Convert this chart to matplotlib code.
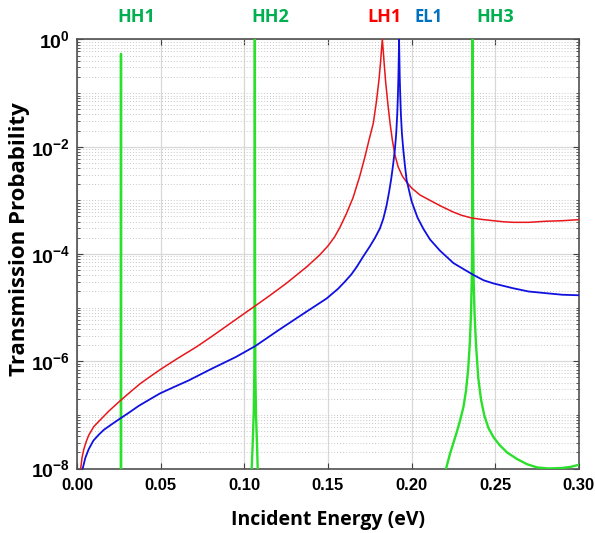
import numpy as np
import matplotlib
matplotlib.use("Agg")
import matplotlib.pyplot as plt
from matplotlib.ticker import FixedLocator, FuncFormatter, NullFormatter

# values (energy in eV, transmission as log10)
red_e = [0.0022, 0.0030, 0.0040, 0.0055, 0.0070, 0.0100, 0.0137, 0.0190, 0.0257, 0.0320,
         0.0377, 0.0440, 0.0500, 0.0600, 0.0715, 0.0800, 0.0900, 0.1000, 0.1064, 0.1150,
         0.1250, 0.1373, 0.1450, 0.1500, 0.1540, 0.1572, 0.1610, 0.1650, 0.1690, 0.1720,
         0.1745, 0.1771, 0.1790, 0.1805, 0.1815, 0.1820, 0.1825, 0.1830, 0.1836, 0.1845,
         0.1858, 0.1871, 0.1885, 0.1900, 0.1920, 0.1945, 0.1970, 0.2000, 0.2050, 0.2110,
         0.2170, 0.2250, 0.2300, 0.2360, 0.2430, 0.2490, 0.2550, 0.2608, 0.2700, 0.2800,
         0.2900, 0.3000]
red_log = [-8.00, -7.80, -7.65, -7.50, -7.38, -7.22, -7.10, -6.93, -6.74, -6.57,
           -6.42, -6.28, -6.15, -5.95, -5.73, -5.55, -5.33, -5.11, -4.97, -4.78,
           -4.55, -4.24, -4.02, -3.85, -3.68, -3.50, -3.25, -2.95, -2.55, -2.20,
           -1.88, -1.56, -1.15, -0.75, -0.40, -0.18, 0.00, -0.20, -0.45, -0.80,
           -1.20, -1.56, -1.88, -2.15, -2.38, -2.55, -2.66, -2.77, -2.90, -3.00,
           -3.10, -3.22, -3.28, -3.33, -3.36, -3.38, -3.40, -3.41, -3.41, -3.39,
           -3.38, -3.36]

blue_e = [0.0034, 0.0042, 0.0050, 0.0070, 0.0098, 0.0130, 0.0160, 0.0210, 0.0257, 0.0310,
          0.0370, 0.0430, 0.0496, 0.0580, 0.0666, 0.0805, 0.0950, 0.1064, 0.1130, 0.1200,
          0.1350, 0.1492, 0.1560, 0.1600, 0.1640, 0.1672, 0.1710, 0.1750, 0.1781, 0.1811,
          0.1831, 0.1850, 0.1865, 0.1878, 0.1890, 0.1900, 0.1908, 0.1914, 0.1918, 0.1921,
          0.1923, 0.1925, 0.1927, 0.1929, 0.1932, 0.1936, 0.1942, 0.1950, 0.1960, 0.1970,
          0.2000, 0.2035, 0.2070, 0.2110, 0.2170, 0.2250, 0.2369, 0.2430, 0.2490, 0.2608,
          0.2700, 0.2800, 0.2900, 0.3000]
blue_log = [-8.00, -7.90, -7.80, -7.64, -7.48, -7.37, -7.28, -7.17, -7.07, -6.96,
            -6.83, -6.72, -6.60, -6.48, -6.36, -6.14, -5.92, -5.72, -5.58, -5.43,
            -5.12, -4.83, -4.65, -4.52, -4.38, -4.24, -4.05, -3.86, -3.70, -3.52,
            -3.34, -3.10, -2.85, -2.60, -2.32, -2.05, -1.75, -1.40, -1.05, -0.70,
            -0.35, 0.00, -0.35, -0.70, -1.05, -1.40, -1.75, -2.05, -2.35, -2.62,
            -3.02, -3.32, -3.53, -3.73, -3.94, -4.17, -4.39, -4.49, -4.55, -4.64,
            -4.70, -4.73, -4.76, -4.77]

green_e = [0.0000, 0.0262, 0.0263, 0.0264,
           0.1040, 0.1044, 0.1050, 0.1056, 0.1060, 0.1062, 0.1063, 0.1064, 0.1066, 0.1070,
           0.1076, 0.1080, 0.1084,
           0.2190, 0.2206, 0.2230, 0.2250, 0.2270, 0.2290, 0.2310, 0.2325, 0.2338, 0.2348,
           0.2355, 0.2360, 0.2363, 0.2364, 0.2365, 0.2366, 0.2367, 0.2370, 0.2376, 0.2385,
           0.2398, 0.2415, 0.2435, 0.2460, 0.2490, 0.2525, 0.2570, 0.2628, 0.2690, 0.2750,
           0.2820, 0.2900, 0.2950, 0.3000]
green_log = [-12.0, -12.0, -0.27, -12.0,
             -12.0, -8.00, -7.55, -7.00, -6.20, -4.50, 0.00, -4.50, -6.20, -7.00,
             -7.55, -8.00, -12.0,
             -9.00, -8.00, -7.72, -7.52, -7.32, -7.10, -6.85, -6.55, -6.15, -5.65,
             -5.10, -4.40, -3.40, -2.00, 0.00, -2.00, -3.40, -4.40, -5.10, -5.70,
             -6.30, -6.72, -7.02, -7.25, -7.42, -7.56, -7.70, -7.82, -7.92, -7.98,
             -8.00, -7.99, -7.97, -7.93]

peak_labels = ["HH1", "HH2", "LH1", "EL1", "HH3"]
peak_label_x = [0.0355, 0.1155, 0.1840, 0.2100, 0.2500]
peak_label_colors = ["#00B050", "#00B050", "#FF0000", "#0070C0", "#00B050"]

x_ticks = [0.00, 0.05, 0.10, 0.15, 0.20, 0.25, 0.30]
y_major = [1e-8, 1e-6, 1e-4, 1e-2, 1e0]

plt.rcParams["mathtext.fontset"] = "custom"
plt.rcParams["mathtext.rm"] = "Liberation Sans:bold"
plt.rcParams["mathtext.bf"] = "Liberation Sans:bold"
plt.rcParams["mathtext.it"] = "Liberation Sans:bold"

fig = plt.figure(figsize=(5.95, 5.33), dpi=100)
ax = fig.add_axes([0.1294, 0.121, 0.8436, 0.805])

ax.plot(green_e, 10.0 ** np.array(green_log), color="#2BE02B", lw=1.7, zorder=3)
ax.plot(red_e, 10.0 ** np.array(red_log), color="#E8161B", lw=1.1, zorder=4)
ax.plot(blue_e, 10.0 ** np.array(blue_log), color="#1010E0", lw=1.3, zorder=5)

ax.set_yscale("log")
ax.set_xlim(0, 0.3)
ax.set_ylim(1e-8, 1)

ax.set_xticks(x_ticks)
ax.set_xticklabels([f"{v:.2f}" for v in x_ticks])
ax.yaxis.set_major_locator(FixedLocator(y_major))
ax.yaxis.set_major_formatter(FuncFormatter(lambda v, p: r"$10^{%d}$" % round(np.log10(v))))
minors = [s * 10.0 ** d for d in range(-8, 0) for s in range(1, 10) if not (s == 1 and d % 2 == 0)]
ax.yaxis.set_minor_locator(FixedLocator(minors))
ax.yaxis.set_minor_formatter(NullFormatter())

ax.grid(True, which="major", color="#d8d8d8", lw=0.9, ls="-")
ax.grid(True, which="minor", axis="y", color="#c8c8c8", lw=0.7, ls=(0, (1, 2)))
ax.set_axisbelow(True)

ax.tick_params(which="both", direction="in", top=True, right=True, color="#404040")
ax.tick_params(which="major", length=4, pad=7)
ax.tick_params(axis="x", labelsize=12)
ax.tick_params(axis="y", labelsize=14, pad=5)
ax.tick_params(which="minor", length=2)
for lab in ax.get_xticklabels():
    lab.set_fontfamily("Liberation Sans")
    lab.set_fontweight("bold")
for s in ax.spines.values():
    s.set_color("#505050")
    s.set_linewidth(1.2)

ax.set_xlabel("Incident Energy (eV)", fontsize=14, fontweight="bold", family="Open Sans")
ax.set_ylabel("Transmission Probability", fontsize=16, fontweight="bold", family="Open Sans")
ax.xaxis.set_label_coords(0.5, -0.097)
ax.yaxis.set_label_coords(-0.094, 0.534)

for txt, xv, c in zip(peak_labels, peak_label_x, peak_label_colors):
    fs = 12 if txt == "EL1" else 13
    ax.text(xv, 1.053, txt, transform=ax.get_xaxis_transform(), ha="center", va="center",
            color=c, fontsize=fs, fontweight="bold", family="Open Sans")

fig.savefig("out.png", dpi=100)
